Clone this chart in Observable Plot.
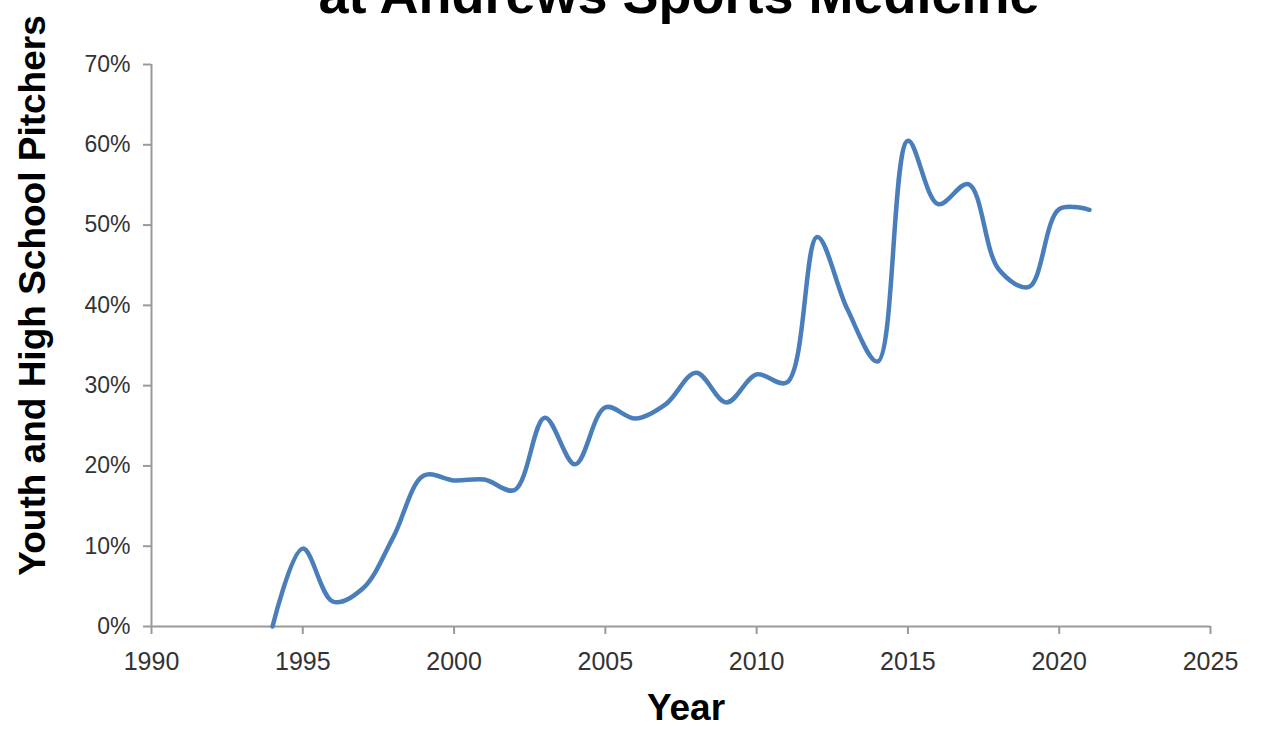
<!DOCTYPE html>
<html>
<head>
<meta charset="utf-8">
<script src="https://cdn.jsdelivr.net/npm/d3@7"></script>
<script src="https://cdn.jsdelivr.net/npm/@observablehq/plot@0.6"></script>
<style>
  html, body { margin: 0; padding: 0; background: #fff; overflow: hidden; }
  #wrap { position: relative; width: 1264px; height: 729px; }
  #title {
    position: absolute; top: -33px; left: 679px; transform: translateX(-50%);
    white-space: nowrap; font-family: "Liberation Sans", Arial, sans-serif;
    font-weight: bold; font-size: 54px; line-height: 54px; color: #000;
  }
  #chart { position: absolute; top: 0; left: 0; }
</style>
</head>
<body>
<div id="wrap">
  <div id="chart"></div>
  <div id="title">at Andrews Sports Medicine</div>
</div>
<script>
const years = [1994, 1995, 1996, 1997, 1998, 1999, 2000, 2001, 2002, 2003, 2004, 2005, 2006, 2007,
               2008, 2009, 2010, 2011, 2012, 2013, 2014, 2015, 2016, 2017, 2018, 2019, 2020, 2021];
const shares = [0, 9.7, 3.1, 4.8, 11.2, 18.8, 18.2, 18.3, 17.0, 26.0, 20.2, 27.3, 25.9, 27.7,
                31.6, 27.9, 31.4, 30.4, 48.5, 39.5, 33.0, 60.5, 52.6, 55.1, 44.5, 42.3, 52.0, 51.9];
const xTicks = [1990, 1995, 2000, 2005, 2010, 2015, 2020, 2025];
const yTicks = [0, 10, 20, 30, 40, 50, 60, 70];
const xTitle = "Year";
const yTitle = "Youth and High School Pitchers";

const data = years.map((y, i) => ({year: y, share: shares[i]}));

const chart = Plot.plot({
  width: 1264,
  height: 729,
  marginLeft: 151,
  marginRight: 54,
  marginTop: 64,
  marginBottom: 103,
  style: {background: "#fff", overflow: "visible"},
  x: {domain: [1990, 2025]},
  y: {domain: [0, 70]},
  marks: [
    Plot.axisY({
      ticks: yTicks, tickFormat: d => d + "%", tickSize: 8, tickPadding: 13,
      stroke: "#9a9a9a", strokeWidth: 2, fill: "#333", fontSize: 23,
      fontFamily: "Liberation Sans, Arial, sans-serif", label: null
    }),
    Plot.axisX({
      ticks: xTicks, tickFormat: d => String(d), tickSize: 8, tickPadding: 18,
      stroke: "#9a9a9a", strokeWidth: 2, fill: "#333", fontSize: 25,
      fontFamily: "Liberation Sans, Arial, sans-serif", label: null
    }),
    Plot.ruleX([xTicks[0]], {stroke: "#9a9a9a", strokeWidth: 2}),
    Plot.ruleY([yTicks[0]], {stroke: "#9a9a9a", strokeWidth: 2}),
    Plot.line(data, {x: "year", y: "share", curve: "catmull-rom", stroke: "#4a7ebb", strokeWidth: 4.5}),
    Plot.text([xTitle], {frameAnchor: "bottom", text: d => d, dx: 5, dy: 93,
      fontSize: 37, fontWeight: "bold", fill: "#000", fontFamily: "Liberation Sans, Arial, sans-serif"}),
    Plot.text([yTitle], {frameAnchor: "left", text: d => d, rotate: -90, textAnchor: "middle", dx: -118, dy: -50,
      fontSize: 37, fontWeight: "bold", fill: "#000", fontFamily: "Liberation Sans, Arial, sans-serif"})
  ]
});
document.getElementById("chart").appendChild(chart);
</script>
</body>
</html>
